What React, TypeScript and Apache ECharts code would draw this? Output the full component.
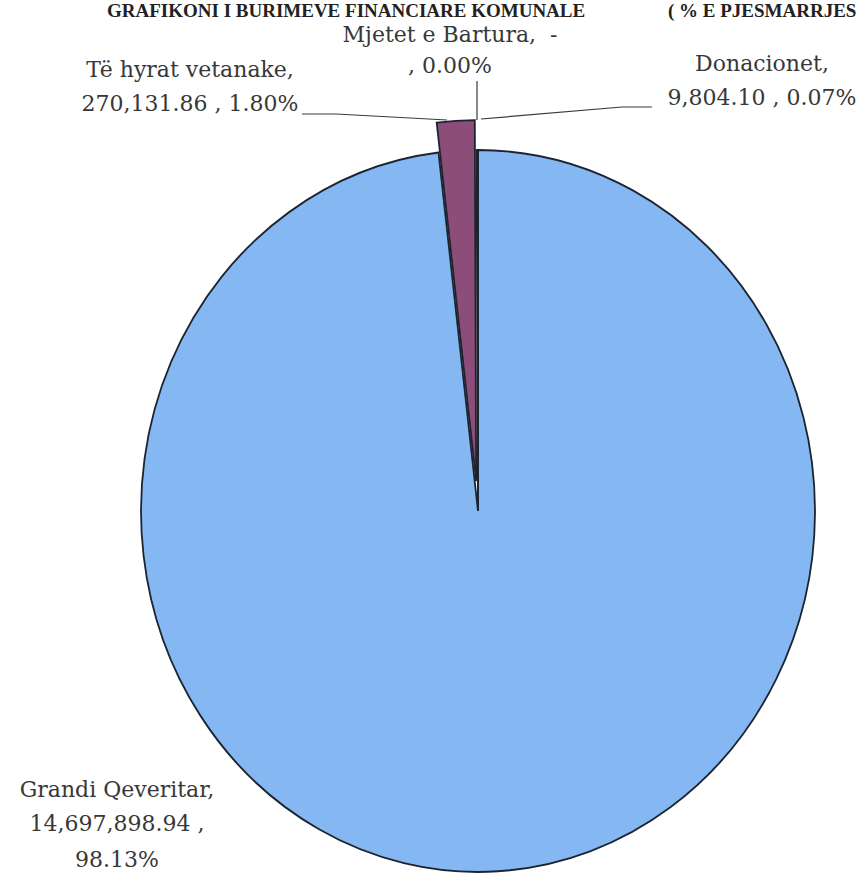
import React, { useEffect, useRef } from "react";
import * as echarts from "echarts";

// ---- data ----
const categories = ["Grandi Qeveritar", "Të hyrat vetanake", "Donacionet", "Mjetet e Bartura"];
const values = [14697898.94, 270131.86, 9804.1, 0];
const sliceColors = ["#85b8f2", "#8c4d78", "#ffffcc", "#ccffff"];
const titleMain = "GRAFIKONI I BURIMEVE FINANCIARE KOMUNALE";
const titleTail = "( % E PJESMARRJES";

const total = values.reduce((a, b) => a + b, 0);
const cumulative = values.map((_, i) => values.slice(0, i).reduce((a, b) => a + b, 0));

const fmtValue = (v: number) =>
  v === 0 ? "-" : v.toLocaleString("en-US", { minimumFractionDigits: 2, maximumFractionDigits: 2 });
const fmtPct = (v: number) => ((v / total) * 100).toFixed(2) + "%";

// label lines built from the data
const labelLines: string[][] = [
  [`${categories[0]},`, `${fmtValue(values[0])} ,`, fmtPct(values[0])],
  [`${categories[1]},`, `${fmtValue(values[1])} , ${fmtPct(values[1])}`],
  [`${categories[2]},`, `${fmtValue(values[2])} , ${fmtPct(values[2])}`],
  [`${categories[3]},  ${fmtValue(values[3])}`, `, ${fmtPct(values[3])}`],
];

// ---- layout (positions / styles only) ----
const CX = 478;
const CY = 511;
const RX = 337;
const RY = 361;
const EXPLODE = [0, 30, 0, 0];
const FONT_SIZE = 22;
const LABEL_FONT = "DejaVu Serif";
const labelLayout = [
  { x: 117, baselines: [797, 831, 867] },
  { x: 190, baselines: [77, 111] },
  { x: 762, baselines: [71, 105] },
  { x: 450, baselines: [42, 73] },
];
const leaderLines: number[][][] = [
  [],
  [[302, 114], [336, 114], [447, 120]],
  [[652, 107], [622, 107], [481, 119]],
  [[477, 81], [477, 120]],
];

export default function App() {
  const ref = useRef<HTMLDivElement>(null);

  useEffect(() => {
    if (!ref.current) return;
    const chart = echarts.init(ref.current, null, { renderer: "svg" });

    const graphics: any[] = [];
    const titleStyle = {
      fontFamily: "Liberation Serif",
      fontSize: 19,
      fontWeight: "bold",
      fill: "#222222",
      textAlign: "left",
      textVerticalAlign: "middle",
    };
    graphics.push({ type: "text", z: 10, style: { ...titleStyle, text: titleMain, x: 107, y: 10 } });
    graphics.push({ type: "text", z: 10, style: { ...titleStyle, text: titleTail, x: 668, y: 10 } });

    const labelStyle = {
      fontFamily: LABEL_FONT,
      fontSize: FONT_SIZE,
      fill: "#383838",
      textAlign: "center",
      textVerticalAlign: "middle",
    };

    labelLines.forEach((lines, i) => {
      const lay = labelLayout[i];
      lines.forEach((line, j) => {
        graphics.push({
          type: "text",
          z: 10,
          style: {
            ...labelStyle,
            text: line,
            x: lay.x,
            y: lay.baselines[j] - 0.35 * FONT_SIZE,
          },
        });
      });
      if (leaderLines[i].length) {
        graphics.push({
          type: "polyline",
          z: 10,
          shape: { points: leaderLines[i] },
          style: { stroke: "#3a3a3a", lineWidth: 1.2, fill: "none" },
        });
      }
    });

    chart.setOption({
      animation: false,
      backgroundColor: "#ffffff",
      series: [
        {
          type: "custom",
          coordinateSystem: "none",
          data: values.map((v, i) => ({ value: v, name: categories[i] })),
          renderItem: (params: any, api: any) => {
            const i = params.dataIndex;
            const v = api.value(0);
            if (!v) return null;
            const start = -Math.PI / 2 + (cumulative[i] / total) * Math.PI * 2;
            const end = start + (v / total) * Math.PI * 2;
            const mid = (start + end) / 2;
            const off = EXPLODE[i];
            return {
              type: "group",
              x: CX + off * Math.cos(mid),
              y: CY + off * Math.sin(mid),
              scaleY: RY / RX,
              children: [
                {
                  type: "sector",
                  shape: { cx: 0, cy: 0, r: RX, r0: 0, startAngle: start, endAngle: end, clockwise: true },
                  style: { fill: sliceColors[i], stroke: "#1c2431", lineWidth: 1.8, strokeNoScale: true },
                },
              ],
            };
          },
        },
      ],
      graphic: graphics,
    });

    return () => chart.dispose();
  }, []);

  return (
    <div ref={ref} style={{ position: "fixed", left: 0, top: 0, width: 865, height: 873, background: "#fff" }} />
  );
}
